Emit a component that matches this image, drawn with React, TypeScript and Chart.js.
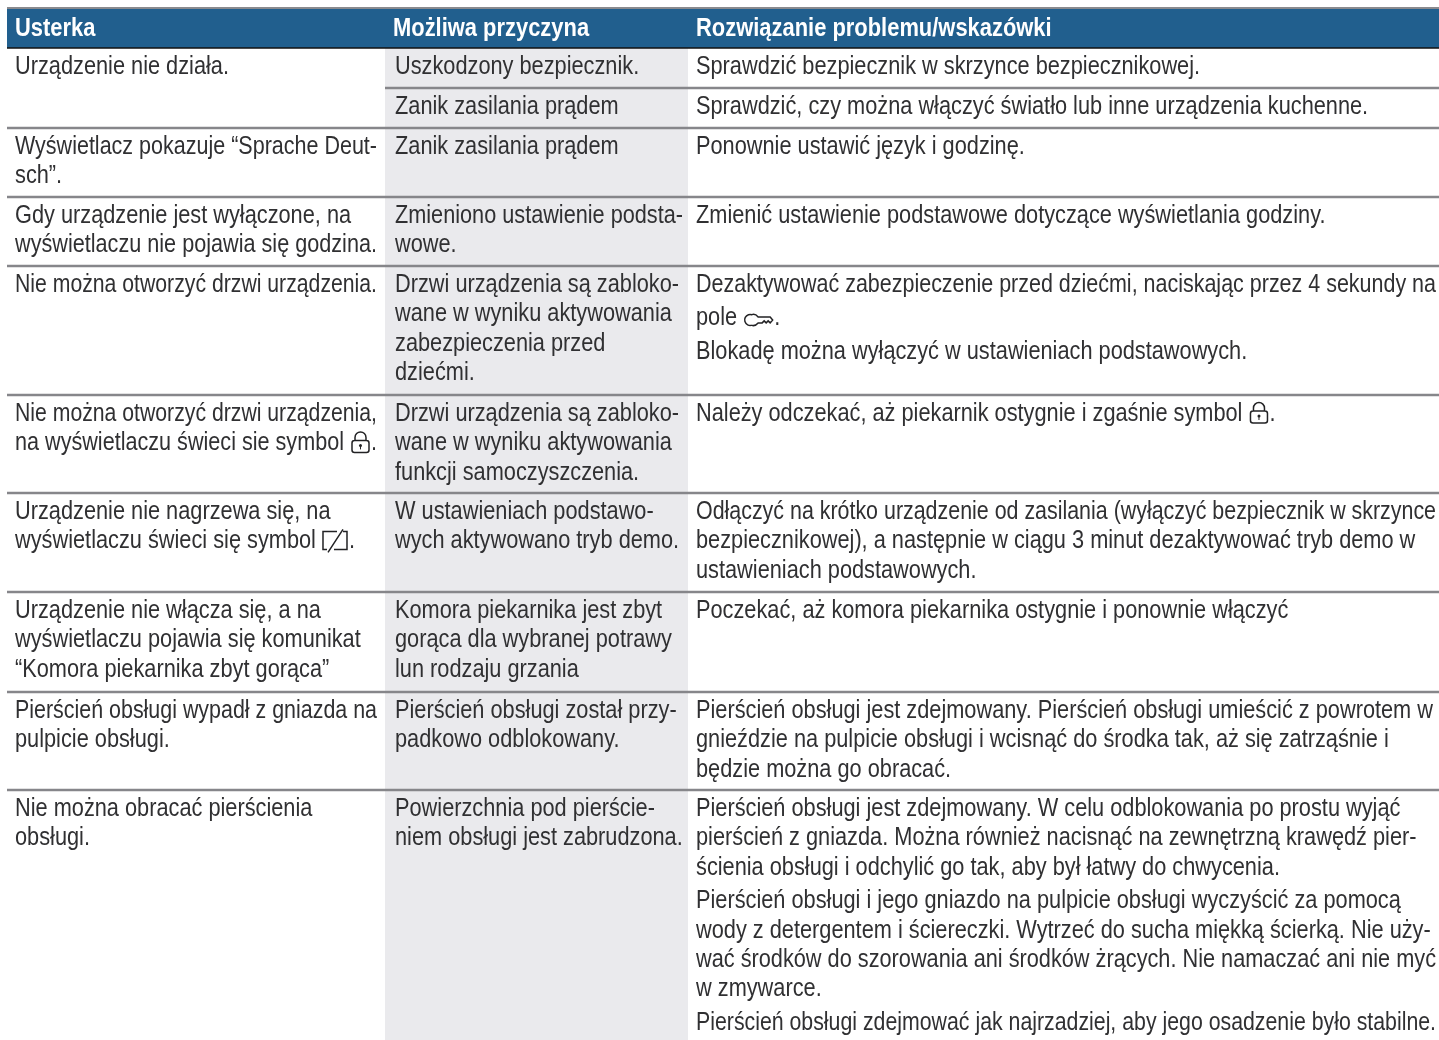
import React, { useEffect, useRef } from "react";
import { Chart, registerables } from "chart.js";

Chart.register(...registerables);

const headers = ["Usterka", "Możliwa przyczyna", "Rozwiązanie problemu/wskazówki"];
const columnStarts = [7, 385, 688];
const columnLimits = [377, 683, 1436];
const tableEnd = 1439;
const headerTop = 9;
const headerBottom = 48;
const rowRules = [48, 88, 128, 197, 266, 395, 493, 592, 692, 790];
const ruleStarts = [7, 385, 7, 7, 7, 7, 7, 7, 7, 7];

const faults: string[][] = [
  ["Urządzenie nie działa."],
  [],
  ["Wyświetlacz pokazuje “Sprache Deut-", "sch”."],
  ["Gdy urządzenie jest wyłączone, na", "wyświetlaczu nie pojawia się godzina."],
  ["Nie można otworzyć drzwi urządzenia."],
  ["Nie można otworzyć drzwi urządzenia,", "na wyświetlaczu świeci sie symbol {lock}."],
  ["Urządzenie nie nagrzewa się, na", "wyświetlaczu świeci się symbol {demo}."],
  ["Urządzenie nie włącza się, a na", "wyświetlaczu pojawia się komunikat", "“Komora piekarnika zbyt gorąca”"],
  ["Pierścień obsługi wypadł z gniazda na", "pulpicie obsługi."],
  ["Nie można obracać pierścienia", "obsługi."],
];

const causes: string[][] = [
  ["Uszkodzony bezpiecznik."],
  ["Zanik zasilania prądem"],
  ["Zanik zasilania prądem"],
  ["Zmieniono ustawienie podsta-", "wowe."],
  ["Drzwi urządzenia są zabloko-", "wane w wyniku aktywowania", "zabezpieczenia przed", "dziećmi."],
  ["Drzwi urządzenia są zabloko-", "wane w wyniku aktywowania", "funkcji samoczyszczenia."],
  ["W ustawieniach podstawo-", "wych aktywowano tryb demo."],
  ["Komora piekarnika jest zbyt", "gorąca dla wybranej potrawy", "lun rodzaju grzania"],
  ["Pierścień obsługi został przy-", "padkowo odblokowany."],
  ["Powierzchnia pod pierście-", "niem obsługi jest zabrudzona."],
];

const remedies: string[][][] = [
  [["Sprawdzić bezpiecznik w skrzynce bezpiecznikowej."]],
  [["Sprawdzić, czy można włączyć światło lub inne urządzenia kuchenne."]],
  [["Ponownie ustawić język i godzinę."]],
  [["Zmienić ustawienie podstawowe dotyczące wyświetlania godziny."]],
  [
    ["Dezaktywować zabezpieczenie przed dziećmi, naciskając przez 4 sekundy na", "pole {key}."],
    ["Blokadę można wyłączyć w ustawieniach podstawowych."],
  ],
  [["Należy odczekać, aż piekarnik ostygnie i zgaśnie symbol {lock}."]],
  [[
    "Odłączyć na krótko urządzenie od zasilania (wyłączyć bezpiecznik w skrzynce",
    "bezpiecznikowej), a następnie w ciągu 3 minut dezaktywować tryb demo w",
    "ustawieniach podstawowych.",
  ]],
  [["Poczekać, aż komora piekarnika ostygnie i ponownie włączyć"]],
  [[
    "Pierścień obsługi jest zdejmowany. Pierścień obsługi umieścić z powrotem w",
    "gnieździe na pulpicie obsługi i wcisnąć do środka tak, aż się zatrząśnie i",
    "będzie można go obracać.",
  ]],
  [
    [
      "Pierścień obsługi jest zdejmowany. W celu odblokowania po prostu wyjąć",
      "pierścień z gniazda. Można również nacisnąć na zewnętrzną krawędź pier-",
      "ścienia obsługi i odchylić go tak, aby był łatwy do chwycenia.",
    ],
    [
      "Pierścień obsługi i jego gniazdo na pulpicie obsługi wyczyścić za pomocą",
      "wody z detergentem i ściereczki. Wytrzeć do sucha miękką ścierką. Nie uży-",
      "wać środków do szorowania ani środków żrących. Nie namaczać ani nie myć",
      "w zmywarce.",
    ],
    ["Pierścień obsługi zdejmować jak najrzadziej, aby jego osadzenie było stabilne."],
  ],
];

const FONT = '"Liberation Sans", sans-serif';
const BODY_SIZE = 25;
const HEAD_SIZE = 26;
const LINE_H = 29.4;
const PARA_GAP = 4;
const KEY_EXTRA = 4;
const FIRST_BASE = 26;
const TEXT_COLOR = "#303032";
const BODY_STRETCH = 0.87;
const HEAD_STRETCH = 0.843;

const ICON_WIDTH: Record<string, number> = { lock: 21, demo: 27, key: 31 };

function drawIcon(ctx: CanvasRenderingContext2D, name: string, x: number, y: number) {
  ctx.save();
  ctx.strokeStyle = "#222224";
  ctx.fillStyle = "#222224";
  ctx.lineWidth = 1.5;
  ctx.translate(x, y);
  ctx.beginPath();
  if (name === "lock") {
    ctx.roundRect(2, -10, 17, 12, 2.5);
    ctx.moveTo(5, -10);
    ctx.lineTo(5, -13);
    ctx.arc(10.5, -13, 5.5, Math.PI, Math.PI * 2);
    ctx.lineTo(16, -10);
    ctx.stroke();
    ctx.beginPath();
    ctx.arc(10.5, -5, 1.5, 0, Math.PI * 2);
    ctx.fill();
    ctx.fillRect(10, -5, 1, 4);
  } else if (name === "demo") {
    ctx.moveTo(5, 1);
    ctx.lineTo(1, 1);
    ctx.lineTo(1, -17);
    ctx.lineTo(15, -17);
    ctx.moveTo(12, 1);
    ctx.lineTo(25, 1);
    ctx.lineTo(25, -17);
    ctx.lineTo(21, -17);
    ctx.moveTo(6, 4);
    ctx.lineTo(21, -19);
    ctx.stroke();
  } else {
    ctx.arc(7, -5.5, 5.5, Math.PI * 0.4, Math.PI * 1.6);
    ctx.quadraticCurveTo(12, -12, 15, -8.5);
    ctx.lineTo(27, -8.5);
    ctx.lineTo(29.5, -5.5);
    ctx.lineTo(27, -2.5);
    ctx.lineTo(25, -4.5);
    ctx.lineTo(23, -2.5);
    ctx.lineTo(21, -4.5);
    ctx.lineTo(19, -2.5);
    ctx.lineTo(15, -2.5);
    ctx.quadraticCurveTo(12, 1, 8.7, 0);
    ctx.stroke();
  }
  ctx.restore();
}

function drawLine(
  ctx: CanvasRenderingContext2D,
  line: string,
  x: number,
  y: number,
  stretch: number,
  limit: number
) {
  const parts = line.split(/(\{\w+\})/).filter(Boolean);
  let textW = 0;
  let iconW = 0;
  for (const part of parts) {
    const icon = part.match(/^\{(\w+)\}$/);
    if (icon) iconW += ICON_WIDTH[icon[1]];
    else textW += ctx.measureText(part).width;
  }
  const sx = Math.min(stretch, (limit - x - iconW) / textW);
  let cursor = x;
  for (const part of parts) {
    const icon = part.match(/^\{(\w+)\}$/);
    if (icon) {
      drawIcon(ctx, icon[1], cursor, y);
      cursor += ICON_WIDTH[icon[1]];
    } else {
      ctx.save();
      ctx.translate(cursor, y);
      ctx.scale(sx, 1);
      ctx.fillText(part, 0, 0);
      ctx.restore();
      cursor += ctx.measureText(part).width * sx;
    }
  }
}

const tableText = {
  id: "tableText",
  afterDatasetsDraw(chart: any) {
    const { ctx, scales } = chart;
    const px = (v: number) => scales.x.getPixelForValue(v);
    const py = (v: number) => scales.y.getPixelForValue(v);
    ctx.save();
    ctx.textBaseline = "alphabetic";
    ctx.textAlign = "left";
    ctx.fillStyle = "#ffffff";
    ctx.font = `bold ${HEAD_SIZE}px ${FONT}`;
    headers.forEach((h, i) =>
      drawLine(ctx, h, px(columnStarts[i] + 8), py(headerBottom - 12), HEAD_STRETCH, tableEnd)
    );
    ctx.fillStyle = TEXT_COLOR;
    ctx.font = `${BODY_SIZE}px ${FONT}`;
    rowRules.forEach((top, r) => {
      const base = top + FIRST_BASE;
      faults[r].forEach((l, i) =>
        drawLine(ctx, l, px(columnStarts[0] + 8), py(base + i * LINE_H), BODY_STRETCH, columnLimits[0])
      );
      causes[r].forEach((l, i) =>
        drawLine(ctx, l, px(columnStarts[1] + 10), py(base + i * LINE_H), BODY_STRETCH, columnLimits[1])
      );
      let y = base;
      remedies[r].forEach((para) => {
        para.forEach((l) => {
          if (l.includes("{key}")) y += KEY_EXTRA;
          drawLine(ctx, l, px(columnStarts[2] + 8), py(y), BODY_STRETCH, columnLimits[2]);
          y += LINE_H;
        });
        y += PARA_GAP;
      });
    });
    ctx.restore();
  },
};

const App = () => {
  const ref = useRef<HTMLCanvasElement>(null);
  useEffect(() => {
    const line = (x0: number, x1: number, y: number, extra: object) => ({
      data: [{ x: x0, y }, { x: x1, y }],
      showLine: true,
      pointRadius: 0,
      borderWidth: 0,
      ...extra,
    });
    const chart = new Chart(ref.current!, {
      type: "scatter",
      data: {
        datasets: [
          line(columnStarts[0], tableEnd, headerTop - 1, { borderColor: "#8a8a8e", borderWidth: 2 }),
          ...rowRules.map((y, i) =>
            line(ruleStarts[i], tableEnd, y, {
              borderColor: i === 0 ? "#111111" : "#86868a",
              borderWidth: i === 0 ? 1.5 : 2.5,
            })
          ),
          line(columnStarts[0], tableEnd, headerTop, {
            fill: { target: { value: headerBottom } },
            backgroundColor: "#215f8e",
            borderColor: "transparent",
          }),
          line(columnStarts[1], columnStarts[2], headerBottom, {
            fill: { target: { value: 1040 } },
            backgroundColor: "#eaeaed",
            borderColor: "transparent",
          }),
        ],
      } as any,
      options: {
        animation: false,
        responsive: false,
        layout: { padding: 0 },
        plugins: { legend: { display: false }, tooltip: { enabled: false }, title: { display: false } },
        scales: {
          x: { type: "linear", min: 0, max: 1439, display: false },
          y: { type: "linear", min: 0, max: 1040, reverse: true, display: false },
        },
      } as any,
      plugins: [tableText],
    });
    return () => chart.destroy();
  }, []);
  return (
    <canvas
      ref={ref}
      width={1439}
      height={1040}
      style={{ position: "absolute", left: 0, top: 0, display: "block" }}
    />
  );
};

export default App;
